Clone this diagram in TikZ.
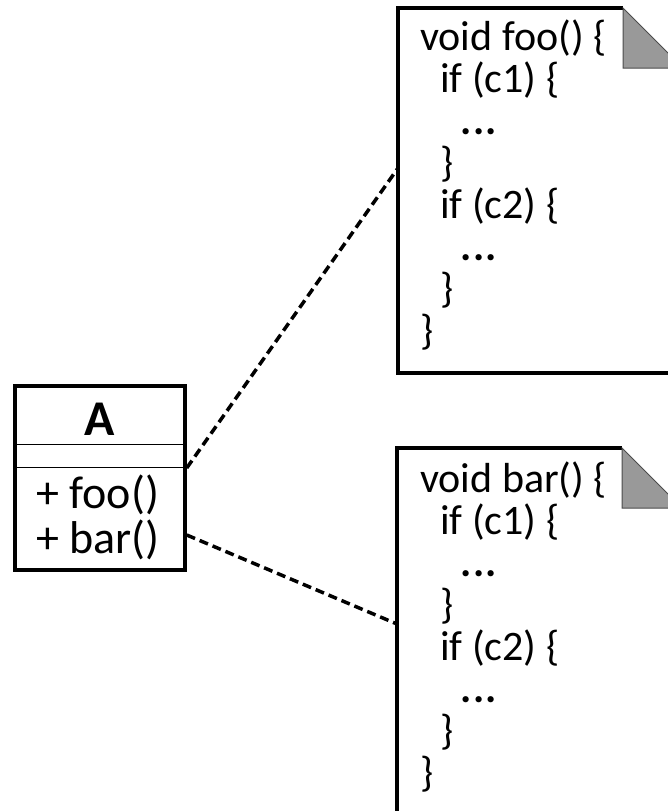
\documentclass[tikz,border=0pt]{standalone}
\usepackage{fontspec}
\setmainfont{Carlito}
\usetikzlibrary{positioning}

\newcommand{\codedots}{\bfseries.\kern1.6pt.\kern1.6pt.}

\tikzset{
  frame/.style={line width=3.5pt},
  sepline/.style={line width=1pt},
  fold/.style={fill=black!40, draw=black!70, line width=1pt},
  link/.style={line width=3.5pt, dash pattern=on 9pt off 5pt},
  codeline/.style={inner sep=0pt, anchor=base west, font=\fontsize{42}{42}\selectfont},
  member/.style={inner sep=0pt, anchor=base west, font=\fontsize{46}{46}\selectfont},
}

\begin{document}
\begin{tikzpicture}[x=1pt,y=-1pt]
\useasboundingbox (0,0) rectangle (668,811);

% class A
\node[frame, draw, minimum width=170pt, minimum height=184pt, inner sep=0pt] (classA) at (100,478) {};
\draw[sepline] (classA.west |- 0,444) -- (classA.east |- 0,444);
\draw[sepline] (classA.west |- 0,467) -- (classA.east |- 0,467);
\node[font=\fontsize{50}{50}\selectfont\bfseries] (nameA) at (100,419) {A};
\node[member] (opFoo) at (36,508) {+ foo()};
\node[member] (opBar) at (36,553) {+ bar()};

% note for foo
\draw[frame] (623,8) -- (398,8) -- (398,373) -- (683,373) -- (683,68);
\draw[fold] (623,8) -- (683,68) -- (623,68) -- cycle;
\foreach \ind/\txt [count=\i] in {0/void foo() \{, 1/if (c1) \{, 2/\codedots, 1/\}, 1/if (c2) \{, 2/\codedots, 1/\}, 0/\}}
  \node[codeline] (foo\i) at ({420+20*\ind}, {50+42*(\i-1)}) {\txt};

% note for bar
\draw[frame] (622,448) -- (397,448) -- (397,840) -- (682,840) -- (682,508);
\draw[fold] (622,448) -- (682,508) -- (622,508) -- cycle;
\foreach \ind/\txt [count=\i] in {0/void bar() \{, 1/if (c1) \{, 2/\codedots, 1/\}, 1/if (c2) \{, 2/\codedots, 1/\}, 0/\}}
  \node[codeline] (bar\i) at ({420+20*\ind}, {492+42*(\i-1)}) {\txt};

% links
\coordinate (fooIn) at (398,168);
\coordinate (barIn) at (397,624);
\draw[link] (classA.east |- 0,468) -- (fooIn);
\draw[link] (classA.east |- 0,535) -- (barIn);
\end{tikzpicture}
\end{document}
